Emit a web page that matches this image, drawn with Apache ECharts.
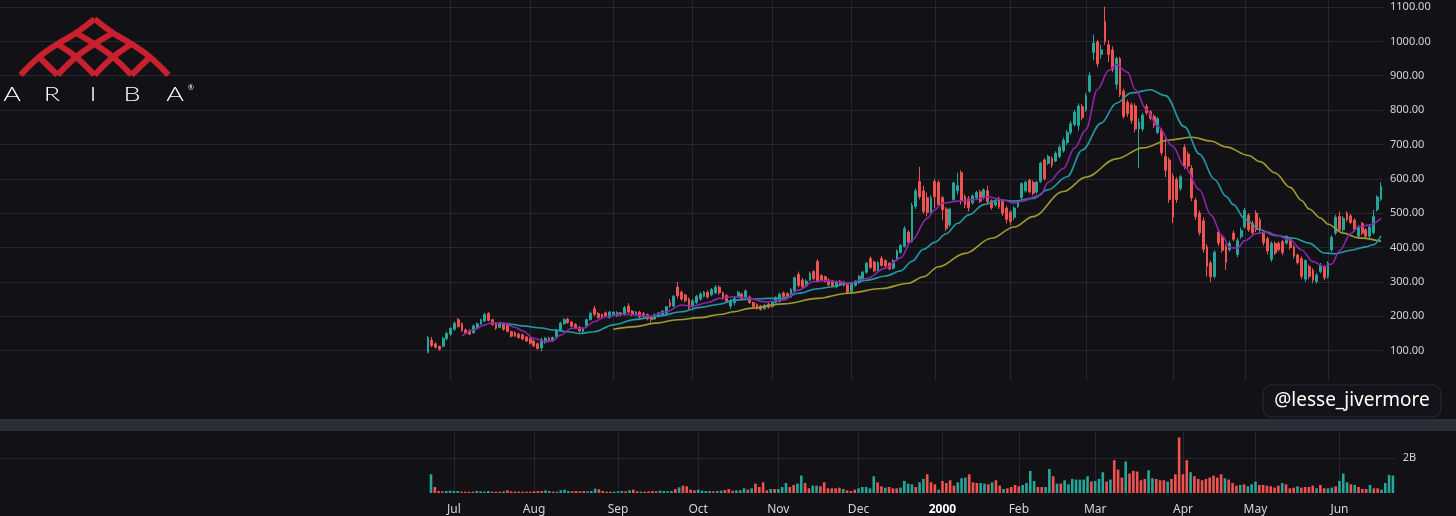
<!DOCTYPE html>
<html>
<head>
<meta charset="utf-8">
<script src="https://cdn.jsdelivr.net/npm/echarts/dist/echarts.min.js"></script>
<style>
html,body{margin:0;padding:0;background:#121216;}
#chart{width:1456px;height:516px;}
</style>
</head>
<body>
<div id="chart"></div>
<script>
// [open, close, low, high] per trading day, 23 Jun 1999 .. 21 Jun 2000
const candles = [
[95,138,92,143],[130,115,110,140],[120,110,106,124],[112,104,100,115],[113,135,110,140],
[135,150,130,155],[148,165,143,168],[162,180,158,185],[190,170,167,195],[178,158,155,182],
[160,150,147,165],[158,148,145,162],[152,172,150,176],[165,178,160,182],[178,190,175,193],
[186,205,183,210],[208,188,185,212],[190,176,172,193],[178,165,160,182],[168,180,165,184],
[176,162,158,178],[178,156,153,182],[155,142,138,158],[152,142,140,156],[148,138,135,152],
[146,134,130,150],[140,128,125,143],[135,122,118,138],[128,114,110,133],[120,106,103,124],
[108,132,98,138],[124,136,120,140],[136,128,124,140],[128,138,125,141],[140,160,138,163],
[160,180,157,184],[178,190,176,195],[192,182,178,196],[183,171,168,186],[176,165,162,180],
[168,157,153,172],[156,166,152,168],[170,190,168,193],[190,208,188,214],[222,206,200,230],
[208,196,193,212],[205,195,192,208],[210,200,196,214],[196,212,194,216],[205,212,200,214],
[202,210,198,215],[210,204,200,213],[205,225,202,230],[230,212,208,238],[215,205,200,218],
[205,212,202,215],[212,198,195,216],[208,198,195,212],[205,192,188,208],[198,190,182,200],
[192,205,190,208],[200,210,196,212],[205,215,200,218],[208,228,205,230],[240,230,225,250],
[230,258,226,262],[285,260,252,300],[270,250,245,275],[262,245,240,265],[250,225,218,255],
[228,245,225,250],[240,258,236,262],[250,265,245,270],[258,270,255,274],[270,256,252,275],
[262,278,258,282],[268,285,265,290],[285,268,262,290],[268,253,248,272],[260,244,240,265],
[230,246,222,250],[240,252,232,256],[258,270,255,274],[265,252,248,268],[252,274,248,278],
[256,240,236,260],[240,228,225,243],[234,223,220,238],[230,220,216,232],[222,232,219,235],
[236,226,222,240],[228,240,225,243],[240,255,238,258],[243,264,240,268],[268,257,254,272],
[266,252,250,270],[256,278,254,282],[274,312,270,316],[322,290,284,330],[305,285,280,312],
[288,302,284,308],[306,325,302,330],[330,310,305,334],[360,302,298,366],[318,306,302,322],
[315,302,298,318],[306,292,288,310],[302,288,285,306],[286,300,282,304],[302,292,288,306],
[300,290,286,303],[292,270,264,295],[272,296,268,300],[290,302,286,305],[298,316,294,320],
[306,328,302,332],[328,354,324,358],[368,342,338,374],[358,332,328,362],[334,356,330,360],
[368,348,344,376],[362,346,342,366],[354,338,334,358],[340,362,336,366],[364,390,360,395],
[386,406,382,410],[404,455,400,462],[445,415,410,450],[418,522,414,530],[520,565,512,572],
[592,548,540,635],[565,505,498,580],[545,502,490,560],[502,545,495,552],[592,548,515,600],
[590,525,518,596],[545,510,480,550],[512,455,448,518],[466,512,460,516],[540,588,535,592],
[565,580,555,618],[618,535,525,625],[548,525,515,555],[542,516,505,550],[530,550,525,555],
[545,560,540,565],[562,535,530,568],[545,568,540,572],[565,534,525,580],[536,516,510,540],
[524,533,518,540],[542,518,512,548],[535,500,492,540],[515,482,470,520],[503,476,465,508],
[488,515,480,520],[520,533,515,538],[545,586,540,590],[565,590,560,595],[596,562,558,600],
[590,558,552,595],[562,590,556,594],[592,645,588,650],[655,600,595,660],[645,665,640,670],
[660,640,632,665],[652,674,648,680],[665,692,660,698],[682,712,676,720],[705,735,698,742],
[735,760,728,768],[758,794,752,800],[755,812,740,820],[810,778,770,818],[800,842,795,850],
[855,900,850,910],[968,995,945,1020],[998,935,925,1005],[962,975,950,990],[1058,1000,990,1101],
[990,962,940,1005],[975,918,910,985],[875,950,860,955],[950,845,838,955],[855,782,775,862],
[822,790,780,830],[815,770,760,822],[812,745,735,820],[745,765,632,775],[745,785,738,792],
[810,792,785,818],[795,776,770,800],[782,756,748,788],[735,775,730,780],[742,676,668,748],
[665,625,605,720],[655,540,530,662],[607,489,471,615],[598,540,530,605],[572,606,565,612],
[692,636,628,700],[672,637,625,680],[630,545,535,640],[538,490,480,545],[500,443,435,508],
[478,395,385,488],[402,346,315,410],[355,315,300,362],[316,386,310,392],[445,413,405,452],
[430,392,385,438],[402,357,335,410],[394,412,388,420],[442,424,418,450],[380,420,372,428],
[432,450,425,458],[460,508,455,515],[494,452,445,500],[470,443,435,478],[500,452,445,508],
[480,452,440,488],[442,414,405,448],[426,390,380,432],[366,412,358,418],[412,384,378,418],
[412,394,388,418],[417,385,378,422],[413,432,408,436],[423,400,394,428],[402,375,368,408],
[378,356,350,382],[368,316,308,374],[308,362,300,366],[345,316,308,350],[334,306,296,340],
[301,320,295,326],[330,348,325,355],[343,312,305,348],[316,354,310,360],[393,430,388,436],
[442,488,436,495],[490,452,445,505],[452,485,446,492],[500,481,475,506],[492,473,468,498],
[480,452,445,485],[433,460,425,466],[470,442,436,475],[452,433,426,456],[433,460,428,465],
[443,490,438,510],[510,547,505,552],[540,578,535,590]
];

// volume, millions of shares
const volumes = [
1075,346,115,96,115,134,115,115,77,77,
77,77,115,96,77,115,77,77,77,96,
154,96,77,77,77,77,77,96,115,115,
154,115,77,77,154,192,115,96,115,96,
115,96,115,250,211,115,77,77,77,96,
115,96,154,192,96,77,77,96,115,96,
134,115,96,115,230,326,422,384,192,154,
192,134,115,115,96,115,134,173,230,134,
154,154,269,192,269,538,346,614,154,230,
230,230,346,576,346,461,538,998,576,269,
422,422,384,614,269,269,269,307,230,154,
115,192,269,346,346,269,960,614,384,307,
346,269,269,
307,691,538,499,346,614,806,1075,614,499,
192,691,576,730,422,614,845,883,1075,614,
576,576,538,499,614,730,422,230,269,346,
461,384,461,576,1267,691,346,346,346,1382,
960,538,538,730,499,806,768,768,768,960,
653,691,806,1190,653,768,1882,1344,883,1805,
1114,1267,1229,730,806,1306,845,806,730,730,
653,806,1075,3187,1075,1882,1190,960,806,730,
806,883,998,883,1075,845,768,576,422,461,
499,384,499,653,461,461,422,384,307,422,
576,499,269,307,384,307,346,346,422,269,
461,269,269,307,384,691,1114,614,499,461,
346,230,230,461,269,269,192,576,1037,998
];

// moving-average lines: [day index, value]
const maShort = [[9,143],[12,160],[15,175],[17,181],[20,180],[23,168],[25,158],[28,136],[31,126],[33,129],[35,145],[38,165],[41,165],[44,184],[47,199],[51,206],[55,204],[59,200],[63,213],[67,233],[70,230],[74,240],[77,252],[81,257],[85,252],[89,242],[94,247],[98,276],[102,301],[105,304],[109,300],[111,296],[116,310],[121,340],[125,370],[128,422],[132,485],[134,510],[136,529],[140,535],[145,540],[148,548],[152,539],[155,529],[157,535],[162,553],[164,590],[168,630],[171,690],[174,744],[177,860],[180,915],[182,932],[185,910],[187,860],[190,801],[193,752],[197,694],[200,636],[204,568],[207,495],[210,435],[212,400],[214,398],[216,420],[219,441],[222,446],[224,437],[228,422],[231,393],[234,359],[237,344],[239,352],[241,390],[244,441],[246,460],[249,466],[252,485]];
const maMid = [[19,180],[22,177],[25,172],[30,166],[33,160],[37,155],[40,150],[44,155],[49,175],[55,191],[61,201],[67,213],[72,226],[77,235],[81,247],[85,250],[90,252],[94,252],[98,267],[103,280],[107,286],[111,296],[116,305],[121,317],[125,332],[128,360],[131,395],[134,415],[137,440],[140,470],[143,495],[147,525],[151,539],[155,535],[160,543],[164,568],[169,606],[173,684],[178,762],[182,820],[186,850],[191,859],[195,842],[200,752],[204,672],[208,598],[211,549],[213,525],[216,482],[220,452],[224,435],[229,427],[233,413],[237,384],[240,382],[244,392],[248,402],[250,408],[252,434]];
const maLong = [[49,162],[55,170],[60,180],[66,190],[72,196],[77,205],[81,213],[85,223],[94,236],[103,252],[111,267],[120,281],[127,296],[131,315],[135,344],[142,383],[149,427],[155,460],[160,490],[168,563],[174,605],[182,658],[189,690],[196,713],[202,721],[207,710],[211,693],[217,668],[220,650],[224,617],[228,575],[231,537],[233,512],[236,486],[238,468],[242,442],[246,428],[252,418]];

// time axis labels
const monthLabels = ['Jul','Aug','Sep','Oct','Nov','Dec','2000','Feb','Mar','Apr','May','Jun'];
const monthStart = [6,27,49,70,91,112,134,154,174,197,216,238];
const priceTicks = [100,200,300,400,500,600,700,800,900,1000,1100];

const UP = '#26a69a', DOWN = '#ef5350';
const GRIDC = '#26272f';
const TXT = '#d1d4dc';
const days = candles.map((_, i) => String(i));
const isMonth = (i) => monthStart.indexOf(Number(i)) >= 0;

const chart = echarts.init(document.getElementById('chart'), null, {renderer: 'canvas', width: 1456, height: 516});

// logo lattice: bands rising to the right (A) and their mirror images (B)
const red = '#c8202e';
const bandA = [
  [[20.5,75],[39,57],[57.5,44],[76,33],[94.5,19]],
  [[57.5,75],[76,57],[94.5,44],[113,33]],
  [[94.5,75],[113,57],[131.5,44]],
  [[131.5,75],[150,57]]
];
function band(pts) {
  return {type: 'polyline', shape: {points: pts, smooth: 0.35}, z: 100,
          style: {stroke: red, lineWidth: 6, fill: null, lineJoin: 'round'}};
}
const logoBands = [];
bandA.forEach(p => {
  logoBands.push(band(p));
  logoBands.push(band(p.map(q => [189 - q[0], q[1]])));
});
function letter(ch, x) {
  return {type: 'text', x: x, y: 95, scaleX: 1.35, z: 100,
          style: {text: ch, x: 0, y: 0, fill: '#ffffff', font: '300 20px Lato', textAlign: 'center', textVerticalAlign: 'middle'}};
}

const option = {
  backgroundColor: '#121216',
  animation: false,
  grid: [
    {left: 0, right: 73, top: 7, height: 378},
    {left: 426.1, right: 73.1, top: 7, height: 378},
    {left: 428, right: 75, top: 0, height: 380},
    {left: 0, right: 61.2, top: 432, height: 61},
    {left: 429.1, right: 61.2, top: 432, height: 61},
    {left: 431, right: 63.1, top: 432, height: 61}
  ],
  xAxis: [
    {gridIndex: 0, type: 'value', min: 0, max: 1, show: false},
    {gridIndex: 1, type: 'category', data: days, boundaryGap: true, show: false},
    {gridIndex: 2, type: 'category', data: days, boundaryGap: false,
     axisLine: {show: false}, axisTick: {show: false}, axisLabel: {show: false},
     splitLine: {show: true, interval: (i) => isMonth(i), lineStyle: {color: GRIDC, width: 1}}},
    {gridIndex: 3, type: 'value', min: 0, max: 1, show: false},
    {gridIndex: 4, type: 'category', data: days, boundaryGap: true, show: false},
    {gridIndex: 5, type: 'category', data: days, boundaryGap: false,
     axisLine: {show: false}, axisTick: {show: false},
     axisLabel: {show: true, interval: (i) => isMonth(i), margin: 11, color: TXT, fontSize: 12,
       fontFamily: 'Noto Sans',
       formatter: (v) => { const k = monthStart.indexOf(Number(v)); if (k < 0) return ''; const s = monthLabels[k]; return s === '2000' ? '{b|2000}' : s; },
       rich: {b: {fontWeight: 'bold', color: '#ffffff', fontSize: 12, fontFamily: 'Noto Sans'}}},
     splitLine: {show: true, interval: (i) => isMonth(i), lineStyle: {color: GRIDC, width: 1}}}
  ],
  yAxis: [
    {gridIndex: 0, type: 'value', min: 0, max: 1100, interval: 100, position: 'right',
     axisLine: {show: false}, axisTick: {show: false},
     axisLabel: {margin: 7, color: TXT, fontSize: 11, fontFamily: 'Noto Sans',
       formatter: (v) => priceTicks.indexOf(v) >= 0 ? v.toFixed(2) : ''},
     splitLine: {show: true, showMinLine: false, lineStyle: {color: GRIDC, width: 1}}},
    {gridIndex: 1, type: 'value', min: 0, max: 1100, show: false},
    {gridIndex: 2, type: 'value', show: false},
    {gridIndex: 3, type: 'value', min: 0, max: 3500, interval: 2000, position: 'right',
     axisLine: {show: false}, axisTick: {show: false},
     axisLabel: {margin: 8, color: TXT, fontSize: 11, fontFamily: 'Noto Sans',
       formatter: (v) => v === 2000 ? '2B' : '', showMaxLabel: false},
     splitLine: {show: true, showMinLine: false, showMaxLine: false, lineStyle: {color: GRIDC, width: 1}}},
    {gridIndex: 4, type: 'value', min: 0, max: 3500, show: false},
    {gridIndex: 5, type: 'value', show: false}
  ],
  series: [
    {type: 'candlestick', xAxisIndex: 1, yAxisIndex: 1, data: candles, barWidth: '62%',
     itemStyle: {color: UP, color0: DOWN, borderColor: UP, borderColor0: DOWN, borderWidth: 1}},
    {type: 'line', name: 'MA long', xAxisIndex: 1, yAxisIndex: 1, data: maLong, smooth: 0.35, smoothMonotone: 'x',
     showSymbol: false, lineStyle: {color: '#9e9a2c', width: 1.6}, z: 3},
    {type: 'line', name: 'MA mid', xAxisIndex: 1, yAxisIndex: 1, data: maMid, smooth: 0.35, smoothMonotone: 'x',
     showSymbol: false, lineStyle: {color: '#1f9ba6', width: 1.6}, z: 3},
    {type: 'line', name: 'MA short', xAxisIndex: 1, yAxisIndex: 1, data: maShort, smooth: 0.35, smoothMonotone: 'x',
     showSymbol: false, lineStyle: {color: '#8e24aa', width: 1.6}, z: 3},
    {type: 'bar', xAxisIndex: 4, yAxisIndex: 4, data: volumes, barWidth: '68%',
     itemStyle: {color: (p) => candles[p.dataIndex][1] >= candles[p.dataIndex][0] ? UP : DOWN}}
  ],
  graphic: [
    {type: 'rect', shape: {x: 0, y: 419, width: 1456, height: 12}, style: {fill: '#2a2e39'}, z: 50},
    {type: 'rect', shape: {x: 1263, y: 385, width: 178, height: 32, r: 9},
     style: {fill: '#131419', stroke: '#2b2d36', lineWidth: 1}, z: 60},
    {type: 'text', x: 1352, y: 401, z: 61,
     style: {text: '@lesse_jivermore', x: 0, y: 0, fill: '#ffffff', font: '19px "Noto Sans"', textAlign: 'center', textVerticalAlign: 'middle'}}
  ].concat(logoBands).concat([
    letter('A', 12), letter('R', 52), letter('I', 93), letter('B', 132), letter('A', 175),
    {type: 'text', x: 191, y: 88, z: 100,
     style: {text: '®', x: 0, y: 0, fill: '#ffffff', font: '7px Lato', textAlign: 'center', textVerticalAlign: 'middle'}}
  ])
};
chart.setOption(option);
</script>
</body>
</html>
